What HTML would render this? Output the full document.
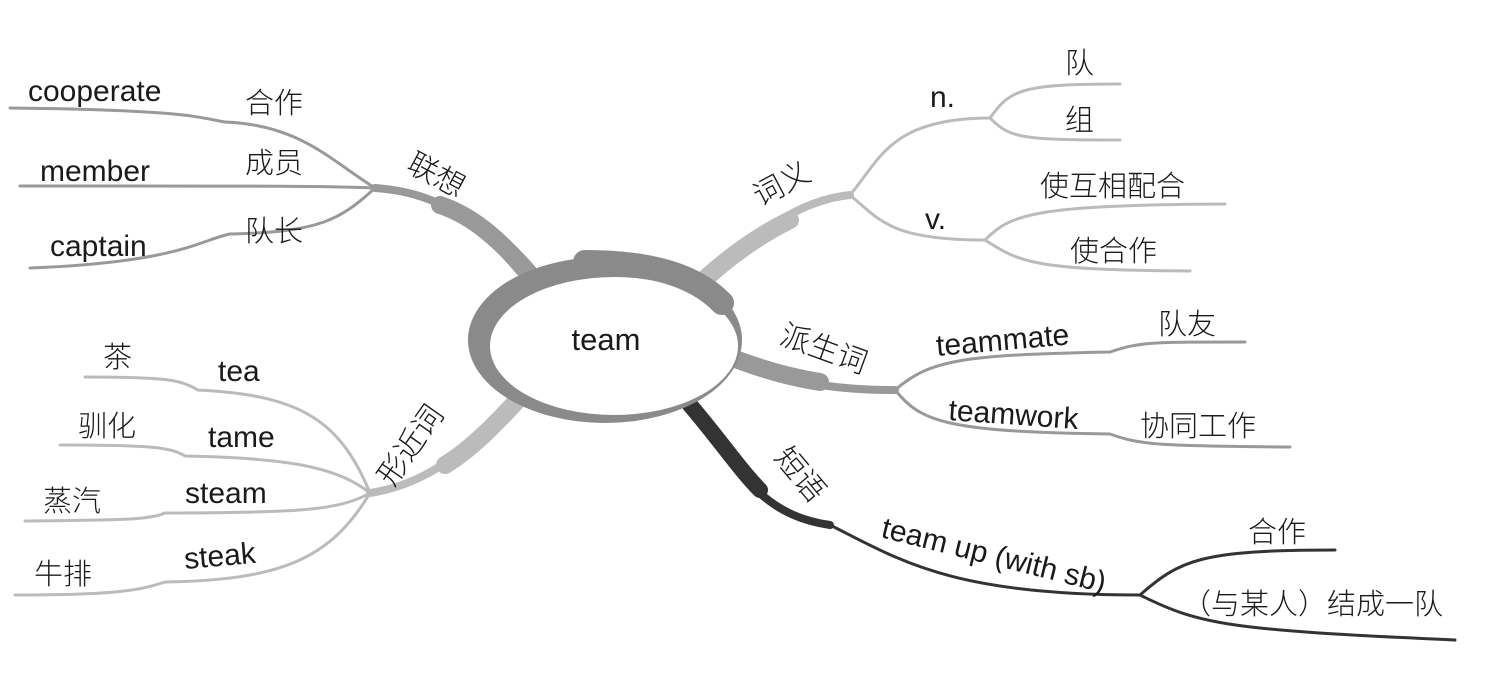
<!DOCTYPE html>
<html><head><meta charset="utf-8"><style>
html,body{margin:0;padding:0;background:#fff;}
svg{display:block;}
text{font-family:"Liberation Sans","Noto Sans CJK SC",sans-serif;fill:#1a1a1a;}
.cn{font-family:"Noto Sans CJK SC","WenQuanYi Zen Hei",sans-serif;font-weight:300;}
</style></head><body>
<svg width="1501" height="675" viewBox="0 0 1501 675" xmlns="http://www.w3.org/2000/svg">
<g fill="none" stroke-linecap="round">
<!-- 联想 branch -->
<path d="M520,272 C470,212 430,192 375,188" stroke="#999" stroke-width="8"/>
<path d="M528,272 C495,235 470,215 440,205" stroke="#999" stroke-width="18"/>
<g stroke="#999" stroke-width="3">
<path d="M375,188 C330,160 300,125 225,122 C200,118 190,110 10,108"/>
<path d="M375,188 C330,186 280,186 20,186"/>
<path d="M375,188 C340,220 320,232 230,234 C200,240 180,262 30,268"/>
</g>
<!-- 词义 -->
<path d="M700,282 C760,230 800,200 850,195" stroke="#bbb" stroke-width="8"/>
<path d="M695,288 C730,255 760,235 790,220" stroke="#bbb" stroke-width="18"/>
<g stroke="#bbb" stroke-width="3">
<path d="M850,195 C880,160 890,118 990,118 C1010,90 1020,84 1120,84"/>
<path d="M990,118 C1010,138 1020,140 1120,140"/>
<path d="M850,195 C880,220 890,240 985,240 C1010,215 1030,205 1225,204"/>
<path d="M985,240 C1020,262 1030,270 1190,271"/>
</g>
<!-- 派生词 -->
<path d="M740,362 C800,385 840,390 895,390" stroke="#999" stroke-width="8"/>
<path d="M738,360 C770,372 795,378 820,382" stroke="#999" stroke-width="18"/>
<g stroke="#999" stroke-width="3">
<path d="M895,390 C930,360 960,355 1110,352 C1140,342 1150,342 1245,342"/>
<path d="M895,390 C920,420 940,432 1110,434 C1140,445 1160,446 1290,447"/>
</g>
<!-- 短语 -->
<path d="M688,408 C740,470 760,515 830,525" stroke="#333" stroke-width="8"/>
<path d="M690,405 C720,440 740,470 760,490" stroke="#333" stroke-width="16"/>
<g stroke="#333" stroke-width="3">
<path d="M830,525 C900,560 950,595 1140,595 C1180,560 1200,550 1335,550"/>
<path d="M1140,595 C1200,625 1230,630 1455,640"/>
</g>
<!-- 形近词 -->
<path d="M522,395 C460,460 420,485 370,493" stroke="#bbb" stroke-width="8"/>
<path d="M525,392 C495,425 470,450 445,465" stroke="#bbb" stroke-width="18"/>
<g stroke="#bbb" stroke-width="3">
<path d="M370,493 C340,420 300,395 198,390 C180,380 170,377 85,377"/>
<path d="M370,493 C340,470 300,458 185,456 C170,447 150,445 60,445"/>
<path d="M370,493 C340,510 300,513 165,513 C150,520 120,520 25,521"/>
<path d="M370,493 C330,560 280,580 165,582 C140,590 120,595 15,595"/>
</g>
</g>
<!-- center -->
<ellipse cx="605" cy="340" rx="137" ry="83" fill="#8a8a8a"/>
<ellipse cx="614" cy="346" rx="124" ry="69" fill="#fff"/>
<path d="M585,262 C650,262 695,275 722,303" stroke="#8a8a8a" stroke-width="24" fill="none" stroke-linecap="round"/>
<text x="606" y="350" font-size="31" text-anchor="middle">team</text>
<!-- left top -->
<text x="28" y="101" font-size="30">cooperate</text>
<text x="245" y="113" font-size="29" class="cn">合作</text>
<text x="40" y="181" font-size="30">member</text>
<text x="245" y="173" font-size="29" class="cn">成员</text>
<text x="50" y="256" font-size="30">captain</text>
<text x="245" y="241" font-size="29" class="cn">队长</text>
<text x="405" y="170" font-size="30" class="cn" transform="rotate(28 405 170)">联想</text>
<!-- right top -->
<text x="760" y="207" font-size="30" class="cn" transform="rotate(-28 760 207)">词义</text>
<text x="930" y="107" font-size="30">n.</text>
<text x="1065" y="73" font-size="29" class="cn">队</text>
<text x="1065" y="130" font-size="29" class="cn">组</text>
<text x="925" y="229" font-size="30">v.</text>
<text x="1040" y="196" font-size="29" class="cn">使互相配合</text>
<text x="1070" y="261" font-size="29" class="cn">使合作</text>
<!-- 派生词 -->
<text x="778" y="343" font-size="30" class="cn" transform="rotate(20 778 343)">派生词</text>
<text x="937" y="356" font-size="30" transform="rotate(-5 937 356)">teammate</text>
<text x="1158" y="334" font-size="29" class="cn">队友</text>
<text x="948" y="420" font-size="30" transform="rotate(4 948 420)">teamwork</text>
<text x="1140" y="436" font-size="29" class="cn">协同工作</text>
<!-- 短语 -->
<text x="773" y="458" font-size="30" class="cn" transform="rotate(50 773 458)">短语</text>
<text x="880" y="537" font-size="30" transform="rotate(14 880 537)">team up (with sb)</text>
<text x="1248" y="542" font-size="29" class="cn">合作</text>
<text x="1182" y="614" font-size="29" class="cn">（与某人）结成一队</text>
<!-- 形近词 -->
<text x="393" y="488" font-size="30" class="cn" transform="rotate(-55 393 488)">形近词</text>
<text x="103" y="367" font-size="29" class="cn">茶</text>
<text x="218" y="381" font-size="30">tea</text>
<text x="78" y="436" font-size="29" class="cn">驯化</text>
<text x="208" y="447" font-size="30">tame</text>
<text x="43" y="511" font-size="29" class="cn">蒸汽</text>
<text x="185" y="503" font-size="30">steam</text>
<text x="34" y="584" font-size="29" class="cn">牛排</text>
<text x="185" y="569" font-size="30" transform="rotate(-5 185 569)">steak</text>
</svg>
</body></html>
